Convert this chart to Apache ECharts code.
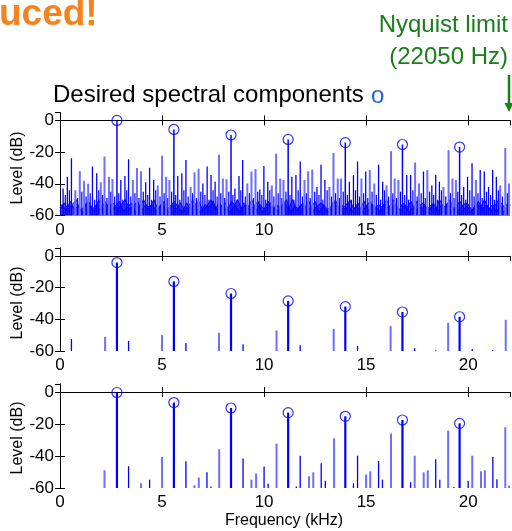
<!DOCTYPE html>
<html>
<head>
<meta charset="utf-8">
<script src="https://cdn.jsdelivr.net/npm/echarts@6/dist/echarts.min.js"></script>
<style>
  html, body { margin: 0; padding: 0; background: #fff; }
  #chart { width: 512px; height: 531px; }
</style>
</head>
<body>
<div id="chart"></div>
<script>
// Frequencies of the wanted harmonics (kHz)
const harmonicF = [2.79, 5.58, 8.38, 11.18, 13.98, 16.78, 19.58];

// Panel 1: harmonic levels (dB)
const harm1 = [0, -5.7, -9.2, -12, -14, -15.2, -16.8];
// Panel 1: strong spurious lines [kHz, dB]
const spur1Dark = [
  [0.15,-43],[0.36,-35.5],[0.56,-23.8],[1.59,-29],[1.8,-33.4],[2.98,-37.6],[3.18,-35],[3.36,-24.5],
  [4.2,-39],[4.39,-29.8],[4.59,-37.6],[5.77,-35],[5.97,-33.4],[6.17,-24.9],[7.0,-39.8],[7.21,-29],
  [7.4,-34.5],[7.6,-38.7],[8.57,-43],[8.77,-35],[8.95,-24.9],[9.79,-43.6],[9.99,-28.7],[10.18,-38.7],
  [11.36,-35.5],[11.56,-34.5],[11.77,-26],[12.59,-42],[12.79,-28],[12.98,-37.6],[14.18,-38.7],
  [14.38,-34.5],[14.58,-26],[14.98,-32.3],[15.61,-28],[15.81,-38.7],[16.99,-34.5],[17.18,-34.5],
  [17.81,-32.3],[18.22,-41],[18.41,-34.5],[18.59,-38.7],[19.78,-42],[19.97,-35.5],[20.19,-27],
  [20.59,-31.3],[20.79,-32.3],[21.0,-42],[21.2,-31.3],[21.38,-35.5]
];
const spur1Light = [
  [0.75,-44],[0.97,-32],[1.18,-38],[1.38,-40],[2.0,-39],[2.18,-22.8],[2.4,-35.5],[2.57,-37],
  [3.57,-37.6],[3.77,-30],[3.97,-32],[4.79,-41],[5.0,-22.3],[5.2,-35.5],[5.36,-37.6],[6.4,-42],
  [6.59,-32.7],[6.79,-30.5],[7.79,-21.7],[7.98,-36.6],[8.16,-37.2],[9.18,-39.8],[9.38,-32.3],
  [9.58,-30.7],[10.38,-41],[10.59,-21],[10.79,-36.6],[10.95,-37.6],[11.98,-37.6],[12.16,-32],
  [12.36,-31],[13.2,-42],[13.4,-20.6],[13.61,-36.6],[13.77,-36.6],[14.77,-36.6],[15.18,-31.3],
  [15.4,-39.8],[16.0,-41],[16.22,-19.5],[16.4,-36.6],[16.58,-37.6],[17.4,-26.6],[17.59,-39.8],
  [18.0,-31.3],[18.79,-42],[19.04,-18.9],[19.23,-36.6],[19.4,-37.6],[20.38,-37.6],[21.57,-41],
  [21.82,-17.4],[22.0,-39.8]
];
// Panel 1: weaker lines in the -42 .. -52 dB range [kHz, dB]
const spur1Mid = [
  [0.26,-47],[0.46,-44],[0.86,-49],[1.07,-45],[1.28,-48],[1.48,-46],[1.7,-50],[1.9,-44],[2.09,-47],
  [2.3,-49],[2.49,-45],[2.68,-48],[2.88,-46],[3.08,-50],[3.27,-44],[3.47,-48],[3.67,-46],[3.87,-49],
  [4.08,-45],[4.3,-47],[4.49,-50],[4.69,-44],[4.9,-48],[5.1,-46],[5.28,-49],[5.47,-45],[5.67,-47],
  [5.87,-50],[6.07,-44],[6.28,-48],[6.5,-46],[6.69,-49],[6.9,-45],[7.1,-47],[7.3,-50],[7.5,-44],
  [7.7,-48],[7.88,-46],[8.07,-49],[8.27,-45],[8.47,-47],[8.67,-50],[8.86,-44],[9.08,-48],[9.28,-46],
  [9.48,-49],[9.69,-45],[9.89,-47],[10.08,-50],[10.28,-44],[10.48,-48],[10.69,-46],[10.87,-49],
  [11.07,-45],[11.27,-47],[11.46,-50],[11.67,-44],[11.88,-48],[12.07,-46],[12.26,-49],[12.48,-45],
  [12.69,-47],[12.88,-50],[13.09,-44],[13.3,-48],[13.5,-46],[13.69,-49],[13.88,-45],[14.08,-47],
  [14.28,-50],[14.48,-44],[14.68,-48],[14.88,-46],[15.08,-49],[15.29,-45],[15.5,-47],[15.71,-50],
  [15.9,-44],[16.1,-48],[16.31,-46],[16.49,-49],[16.68,-45],[16.89,-47],[17.08,-50],[17.29,-44],
  [17.5,-48],[17.7,-46],[17.9,-49],[18.11,-45],[18.31,-47],[18.5,-50],[18.69,-44],[18.9,-48],
  [19.13,-46],[19.31,-49],[19.49,-45],[19.68,-47],[19.88,-50],[20.08,-44],[20.29,-48],[20.48,-46],
  [20.69,-49],[20.9,-45],[21.1,-47],[21.29,-50],[21.48,-44],[21.68,-48],[21.92,-46]
];
// Panel 1: noise floor outline, two interleaved traces [kHz, dB]
const floor1 = [
  [0.0,-55],[0.1,-53],[0.3,-57],[0.5,-51],[0.7,-56],[0.9,-54],[1.1,-58],[1.3,-52],[1.5,-55],[1.7,-57],[1.9,-50],
  [2.1,-56],[2.3,-53],[2.5,-58],[2.7,-54],[2.9,-51],[3.1,-57],[3.3,-55],[3.5,-52],[3.7,-58],[3.9,-54],
  [4.1,-50],[4.3,-56],[4.5,-53],[4.7,-57],[4.9,-55],[5.1,-51],[5.3,-58],[5.5,-53],[5.7,-56],[5.9,-52],
  [6.1,-57],[6.3,-54],[6.5,-50],[6.7,-56],[6.9,-58],[7.1,-53],[7.3,-55],[7.5,-51],[7.7,-57],[7.9,-54],
  [8.1,-52],[8.3,-58],[8.5,-55],[8.7,-50],[8.9,-56],[9.1,-53],[9.3,-57],[9.5,-54],[9.7,-51],[9.9,-58],
  [10.1,-55],[10.3,-52],[10.5,-56],[10.7,-57],[10.9,-53],[11.1,-50],[11.3,-58],[11.5,-54],[11.7,-56],[11.9,-52],
  [12.1,-57],[12.3,-55],[12.5,-51],[12.7,-58],[12.9,-53],[13.1,-56],[13.3,-54],[13.5,-50],[13.7,-57],[13.9,-55],
  [14.1,-52],[14.3,-58],[14.5,-54],[14.7,-56],[14.9,-51],[15.1,-57],[15.3,-53],[15.5,-55],[15.7,-58],[15.9,-52],
  [16.1,-56],[16.3,-50],[16.5,-54],[16.7,-57],[16.9,-53],[17.1,-58],[17.3,-55],[17.5,-51],[17.7,-56],[17.9,-54],
  [18.1,-57],[18.3,-52],[18.5,-58],[18.7,-53],[18.9,-55],[19.1,-50],[19.3,-56],[19.5,-57],[19.7,-54],[19.9,-52],
  [20.1,-58],[20.3,-55],[20.5,-51],[20.7,-56],[20.9,-53],[21.1,-57],[21.3,-54],[21.5,-50],[21.7,-58],[21.9,-55],
  [22.05,-56]
];
const floor1b = [
  [0.0,-57],[0.2,-52],[0.4,-56],[0.6,-53],[0.8,-50],[1.0,-57],[1.2,-54],[1.4,-51],[1.6,-56],[1.8,-53],[2.0,-58],
  [2.2,-51],[2.4,-55],[2.6,-52],[2.8,-57],[3.0,-53],[3.2,-50],[3.4,-56],[3.6,-54],[3.8,-51],[4.0,-57],
  [4.2,-53],[4.4,-55],[4.6,-50],[4.8,-56],[5.0,-52],[5.2,-57],[5.4,-54],[5.6,-51],[5.8,-55],[6.0,-58],
  [6.2,-52],[6.4,-56],[6.6,-53],[6.8,-51],[7.0,-57],[7.2,-54],[7.4,-50],[7.6,-56],[7.8,-52],[8.0,-55],
  [8.2,-57],[8.4,-51],[8.6,-54],[8.8,-58],[9.0,-52],[9.2,-55],[9.4,-50],[9.6,-57],[9.8,-53],[10.0,-56],
  [10.2,-51],[10.4,-58],[10.6,-53],[10.8,-55],[11.0,-52],[11.2,-56],[11.4,-50],[11.6,-57],[11.8,-53],[12.0,-55],
  [12.2,-51],[12.4,-57],[12.6,-54],[12.8,-52],[13.0,-56],[13.2,-58],[13.4,-51],[13.6,-55],[13.8,-53],[14.0,-57],
  [14.2,-50],[14.4,-56],[14.6,-52],[14.8,-58],[15.0,-54],[15.2,-51],[15.4,-57],[15.6,-53],[15.8,-55],[16.0,-50],
  [16.2,-56],[16.4,-53],[16.6,-57],[16.8,-52],[17.0,-55],[17.2,-51],[17.4,-58],[17.6,-54],[17.8,-52],[18.0,-56],
  [18.2,-53],[18.4,-57],[18.6,-50],[18.8,-55],[19.0,-52],[19.2,-58],[19.4,-54],[19.6,-51],[19.8,-56],[20.0,-53],
  [20.2,-57],[20.4,-52],[20.6,-55],[20.8,-50],[21.0,-56],[21.2,-53],[21.4,-58],[21.6,-52],[21.8,-55],[22.0,-51],
  [22.05,-54]
];

// Panel 2: harmonic levels and alias lines
const harm2 = [-4.2, -16.1, -23.7, -28.4, -32, -35.4, -38.4];
const spur2Dark = [
  [0.56,-52.5],[3.36,-53.6],[6.17,-54.9],[8.97,-55.7],[11.77,-56.4],[14.58,-56.8],
  [17.38,-58.3],[18.41,-59.5],[20.2,-58.7],[21.2,-59.4]
];
const spur2Light = [
  [2.21,-51.1],[5.0,-49.8],[7.79,-48.5],[10.61,-47],[13.41,-46],[16.2,-44.3],[19.02,-42.2],[21.84,-40.3]
];

// Panel 3: harmonic levels and alias lines
const harm3 = [-0.3, -6.6, -10, -12.9, -15.2, -17.5, -19.6];
const spur3Dark = [
  [3.36,-46.4],[4.39,-54.8],[6.17,-43.3],[7.2,-50.2],[7.4,-59],[8.97,-41.6],[10.0,-46.6],[10.2,-57.3],
  [11.58,-59],[11.77,-39.8],[12.8,-44.6],[13.0,-55.4],[14.38,-57],[14.58,-39.8],[15.61,-43.1],[15.8,-54.8],
  [17.18,-56.4],[18.41,-42.1],[18.61,-54.8],[20.0,-55.6],[21.21,-40.6],[21.41,-54.6],[19.3,-59.3]
];
const spur3Light = [
  [2.18,-48.9],[3.97,-57],[5.0,-40.6],[6.59,-58.3],[6.8,-53.5],[7.8,-35.8],[9.38,-54.8],[9.61,-51],
  [10.61,-32.3],[12.2,-52.7],[12.41,-50.2],[13.43,-28.9],[15.0,-51.6],[15.2,-49.6],[16.22,-26],
  [17.38,-39.8],[17.82,-50.2],[18.02,-48.9],[19.02,-24.1],[20.2,-39.8],[20.63,-49.6],[20.82,-48.9],
  [21.82,-22],[22.0,-58.5]
];

// Axis ticks
const xTicks = { min: 0, max: 22.05, interval: 5 };
const yTicks = { min: -60, max: 5, interval: 20 };

const BLUE = '#0000ff';
const LIGHT = '#6e6eff';
const GREEN = '#1b7d1b';
const font = 'Arial, "Liberation Sans", Helvetica, sans-serif';

const panels = [
  { top: 112.5, height: 103, harm: harm1, dark: spur1Dark, light: spur1Light, mid: spur1Mid, floors: [floor1, floor1b], harmWidth: 1.5 },
  { top: 248,   height: 103, harm: harm2, dark: spur2Dark, light: spur2Light, harmWidth: 2.2 },
  { top: 384,   height: 104, harm: harm3, dark: spur3Dark, light: spur3Light, harmWidth: 2.2 }
];

const grid = [], xAxis = [], yAxis = [], series = [];

function stemSeries(idx, data, color, width, z) {
  return {
    type: 'custom', xAxisIndex: idx * 2, yAxisIndex: idx * 2, z: z || 2,
    clip: true, silent: true,
    data: data,
    renderItem: function (params, api) {
      const f = api.value(0), L = api.value(1);
      const p0 = api.coord([f, yTicks.min]);
      const p1 = api.coord([f, L]);
      return {
        type: 'line',
        shape: { x1: p0[0], y1: p0[1], x2: p1[0], y2: p1[1] },
        style: { stroke: color, lineWidth: width }
      };
    }
  };
}

panels.forEach(function (p, i) {
  grid.push({ left: 60, width: 450, top: p.top, height: p.height, containLabel: false });
  const axisLine = { show: true, lineStyle: { color: '#000', width: 1 } };
  const tick = { show: true, inside: true, length: 5, lineStyle: { color: '#000' } };
  xAxis.push({
    gridIndex: i, type: 'value', position: 'bottom', min: xTicks.min, max: xTicks.max, interval: xTicks.interval,
    axisLine: axisLine, axisTick: tick, splitLine: { show: false },
    axisLabel: { show: true, color: '#000', fontSize: 17, fontFamily: font, margin: 6, showMaxLabel: false }
  });
  xAxis.push({
    gridIndex: i, type: 'value', position: 'top', min: xTicks.min, max: xTicks.max, interval: xTicks.interval,
    axisLine: axisLine, axisTick: tick, splitLine: { show: false }, axisLabel: { show: false }
  });
  yAxis.push({
    gridIndex: i, type: 'value', position: 'left', min: yTicks.min, max: yTicks.max, interval: yTicks.interval,
    axisLine: axisLine, axisTick: tick, splitLine: { show: false },
    axisLabel: { show: true, color: '#000', fontSize: 17, fontFamily: font, margin: 6, showMaxLabel: false }
  });
  yAxis.push({
    gridIndex: i, type: 'value', position: 'right', min: yTicks.min, max: yTicks.max, interval: yTicks.interval,
    axisLine: axisLine, axisTick: tick, splitLine: { show: false }, axisLabel: { show: false }
  });

  (p.floors || []).forEach(function (fl) {
    series.push({
      type: 'line', xAxisIndex: i * 2, yAxisIndex: i * 2, data: fl, symbol: 'none', silent: true,
      lineStyle: { color: BLUE, width: 1 },
      areaStyle: { color: 'rgba(0,0,255,0.8)', origin: 'start' }, z: 1
    });
  });
  if (p.mid) series.push(stemSeries(i, p.mid, BLUE, 1.2, 2));
  series.push(stemSeries(i, p.light, LIGHT, 2, 2));
  series.push(stemSeries(i, p.dark, BLUE, 1.3, 3));
  const hData = harmonicF.map(function (f, k) { return [f, p.harm[k]]; });
  series.push(stemSeries(i, hData, BLUE, p.harmWidth, 4));
  series.push({
    type: 'scatter', xAxisIndex: i * 2, yAxisIndex: i * 2, data: hData, silent: true, z: 5,
    symbol: 'circle', symbolSize: 10,
    itemStyle: { color: 'rgba(0,0,0,0)', borderColor: BLUE, borderWidth: 1.2 }
  });
});

const chart = echarts.init(document.getElementById('chart'), null, { renderer: 'canvas' });
chart.setOption({
  animation: false,
  backgroundColor: '#fff',
  grid: grid, xAxis: xAxis, yAxis: yAxis, series: series,
  graphic: [
    { type: 'text', left: -1, top: -4, style: { text: 'uced!', fill: '#f5821f', font: 'bold 37px ' + font } },
    { type: 'text', x: 508, y: 25, style: { text: 'Nyquist limit', fill: GREEN, font: '24px ' + font, textAlign: 'right', textVerticalAlign: 'middle' } },
    { type: 'text', x: 508, y: 57, style: { text: '(22050 Hz)', fill: GREEN, font: '24px ' + font, textAlign: 'right', textVerticalAlign: 'middle' } },
    { type: 'line', shape: { x1: 509, y1: 75, x2: 509, y2: 104 }, style: { stroke: GREEN, lineWidth: 2.5 } },
    { type: 'polygon', shape: { points: [[504.5, 103], [513.5, 103], [509, 112]] }, style: { fill: GREEN } },
    { type: 'text', x: 53, y: 95, style: { text: 'Desired spectral components', fill: '#000', font: '24px ' + font, textVerticalAlign: 'middle' } },
    { type: 'text', x: 371, y: 96, style: { text: 'o', fill: '#1e64dc', font: '24px ' + font, textVerticalAlign: 'middle' } },
    { type: 'text', x: 17.5, y: 168, rotation: Math.PI / 2, style: { text: 'Level (dB)', fill: '#000', font: '16px ' + font, textAlign: 'center', textVerticalAlign: 'middle' } },
    { type: 'text', x: 17.5, y: 303, rotation: Math.PI / 2, style: { text: 'Level (dB)', fill: '#000', font: '16px ' + font, textAlign: 'center', textVerticalAlign: 'middle' } },
    { type: 'text', x: 17.5, y: 438, rotation: Math.PI / 2, style: { text: 'Level (dB)', fill: '#000', font: '16px ' + font, textAlign: 'center', textVerticalAlign: 'middle' } },
    { type: 'text', x: 284, y: 521, style: { text: 'Frequency (kHz)', fill: '#000', font: '16px ' + font, textAlign: 'center', textVerticalAlign: 'middle' } }
  ]
});
</script>
</body>
</html>
